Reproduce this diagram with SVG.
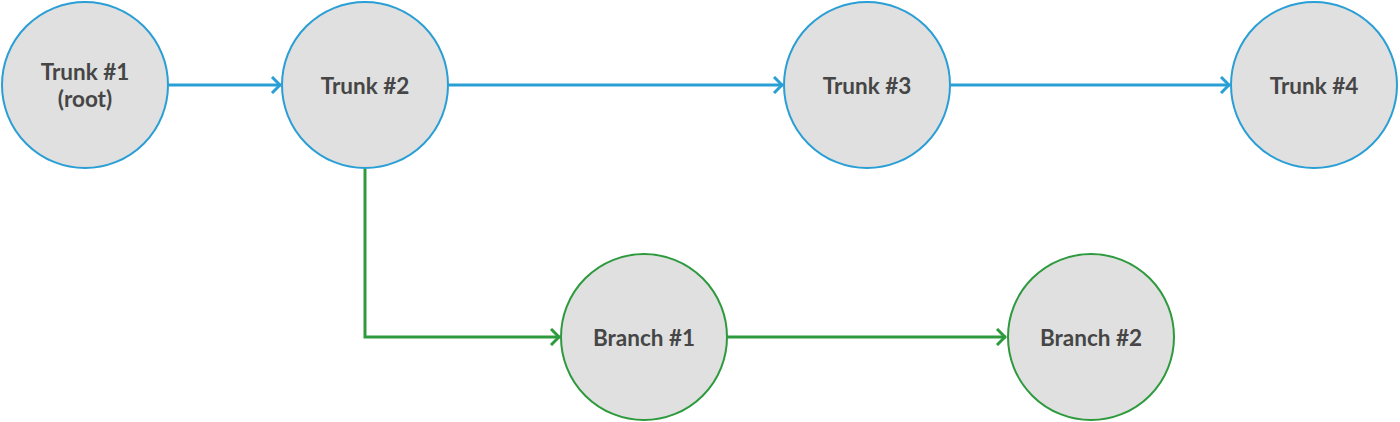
<svg xmlns="http://www.w3.org/2000/svg" width="1400" height="422" viewBox="0 0 1400 422">
<defs>
<marker id="ab" viewBox="0 0 12 18" refX="11" refY="9" markerWidth="12" markerHeight="18" markerUnits="userSpaceOnUse" orient="auto">
<polyline points="2,1 10,9 2,17" fill="none" stroke="#2a9fd6" stroke-width="3"/>
</marker>
<marker id="ag" viewBox="0 0 12 18" refX="11" refY="9" markerWidth="12" markerHeight="18" markerUnits="userSpaceOnUse" orient="auto">
<polyline points="2,1 10,9 2,17" fill="none" stroke="#2e9a3e" stroke-width="3"/>
</marker>
</defs>
<style>
.n{fill:#dfe0df;stroke-width:2}
.t{stroke:#2a9fd6}
.b{stroke:#2e9a3e}
text{font-family:Lato,"Liberation Sans",sans-serif;font-weight:bold;font-size:22.5px;fill:#464646;text-anchor:middle}
.e{fill:none;stroke-width:3}
</style>
<g id="connectors">
<path class="e t" d="M168,85 H281" marker-end="url(#ab)"/>
<path class="e t" d="M448,85 H783" marker-end="url(#ab)"/>
<path class="e t" d="M950,85 H1230" marker-end="url(#ab)"/>
<path class="e b" d="M365,169 V337 H560" marker-end="url(#ag)"/>
<path class="e b" d="M727,337 H1006" marker-end="url(#ag)"/>
</g>
<g id="trunk1"><circle class="n t" cx="85" cy="85" r="83"/><text x="85" y="80">Trunk #1</text><text x="85" y="107">(root)</text></g>
<g id="trunk2"><circle class="n t" cx="365" cy="85" r="83"/><text x="365" y="94">Trunk #2</text></g>
<g id="trunk3"><circle class="n t" cx="867" cy="85" r="83"/><text x="867" y="94">Trunk #3</text></g>
<g id="trunk4"><circle class="n t" cx="1314" cy="85" r="83"/><text x="1314" y="94">Trunk #4</text></g>
<g id="branch1"><circle class="n b" cx="644" cy="337" r="83"/><text x="644" y="346">Branch #1</text></g>
<g id="branch2"><circle class="n b" cx="1091" cy="337" r="83"/><text x="1091" y="346">Branch #2</text></g>
</svg>
